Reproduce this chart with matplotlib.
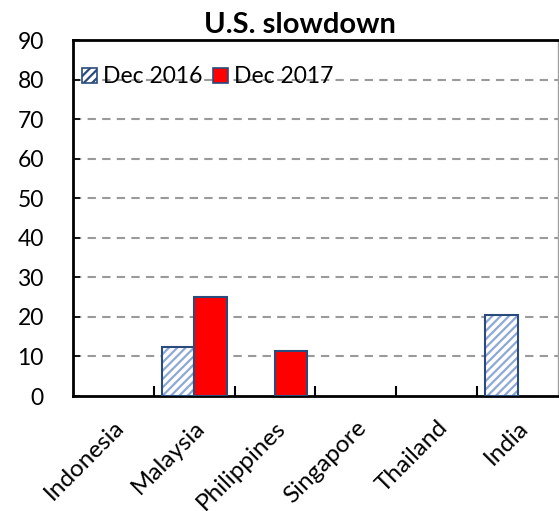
import numpy as np
import matplotlib
matplotlib.use("Agg")
import matplotlib.pyplot as plt
from matplotlib.patches import Patch

countries = ["Indonesia", "Malaysia", "Philippines", "Singapore", "Thailand", "India"]
dec_2016 = [np.nan, 12.3, np.nan, np.nan, np.nan, 20.5]
dec_2017 = [np.nan, 25.0, 11.3, np.nan, np.nan, np.nan]
y_ticks = [0, 10, 20, 30, 40, 50, 60, 70, 80, 90]

plt.rcParams["font.family"] = ["Lato", "DejaVu Sans"]
plt.rcParams["hatch.linewidth"] = 1.6

navy = "#2a4c7c"
hatch_blue = "#8ea9d6"
red = "#ff0000"

fig = plt.figure(figsize=(5.59, 5.11), dpi=100)
ax = fig.add_axes([0.1306, 0.225, 0.8676, 0.6967])

x = np.arange(len(countries))
w = 0.4

# Dec 2016: hatched fill, then outline on top
ax.bar(x - w / 2, dec_2016, width=w, facecolor="white", edgecolor=hatch_blue,
       hatch="////", linewidth=0, zorder=3)
ax.bar(x - w / 2, dec_2016, width=w, facecolor="none", edgecolor=navy,
       linewidth=1.5, zorder=4)
# Dec 2017: solid red
ax.bar(x + w / 2, dec_2017, width=w, facecolor=red, edgecolor=navy,
       linewidth=1.5, zorder=3)

ax.set_xlim(-0.5, len(countries) - 0.5)
ax.set_ylim(0, 90)
ax.set_yticks(y_ticks)
ax.tick_params(axis="y", direction="in", length=5, width=1.2, pad=21,
               labelsize=16.5)

ax.set_xticks(x)
ax.set_xticklabels(countries, rotation=45, ha="right", rotation_mode="anchor",
                   fontsize=17.5)
ax.set_xticks(np.arange(0.5, len(countries) - 0.5, 1.0), minor=True)
ax.tick_params(axis="x", which="major", length=0, pad=15)
ax.tick_params(axis="x", which="minor", direction="in", length=7, width=1.5)

for yv in y_ticks[1:-1]:
    ax.axhline(yv, color="#9a9a9a", linewidth=1.5, linestyle=(0, (4, 3)), zorder=1)

for side in ("left", "bottom", "top"):
    ax.spines[side].set_linewidth(2)
    ax.spines[side].set_color("black")
ax.spines["right"].set_linewidth(1)
ax.spines["right"].set_color("#a0a0a0")

ax.set_title("U.S. slowdown", fontsize=21, fontweight="bold", pad=5, x=0.468)

handles = [
    Patch(facecolor="white", edgecolor=navy, hatch="////", linewidth=1.2, label="Dec 2016"),
    Patch(facecolor=red, edgecolor=navy, linewidth=1.2, label="Dec 2017"),
]
ax.legend(handles=handles, loc="upper left", bbox_to_anchor=(-0.01, 0.965),
          ncol=2, frameon=False, fontsize=16.5, handlelength=0.65,
          handleheight=0.65, handletextpad=0.25, columnspacing=0.5,
          borderaxespad=0.2)

fig.savefig("out.png", dpi=100, facecolor="white")
